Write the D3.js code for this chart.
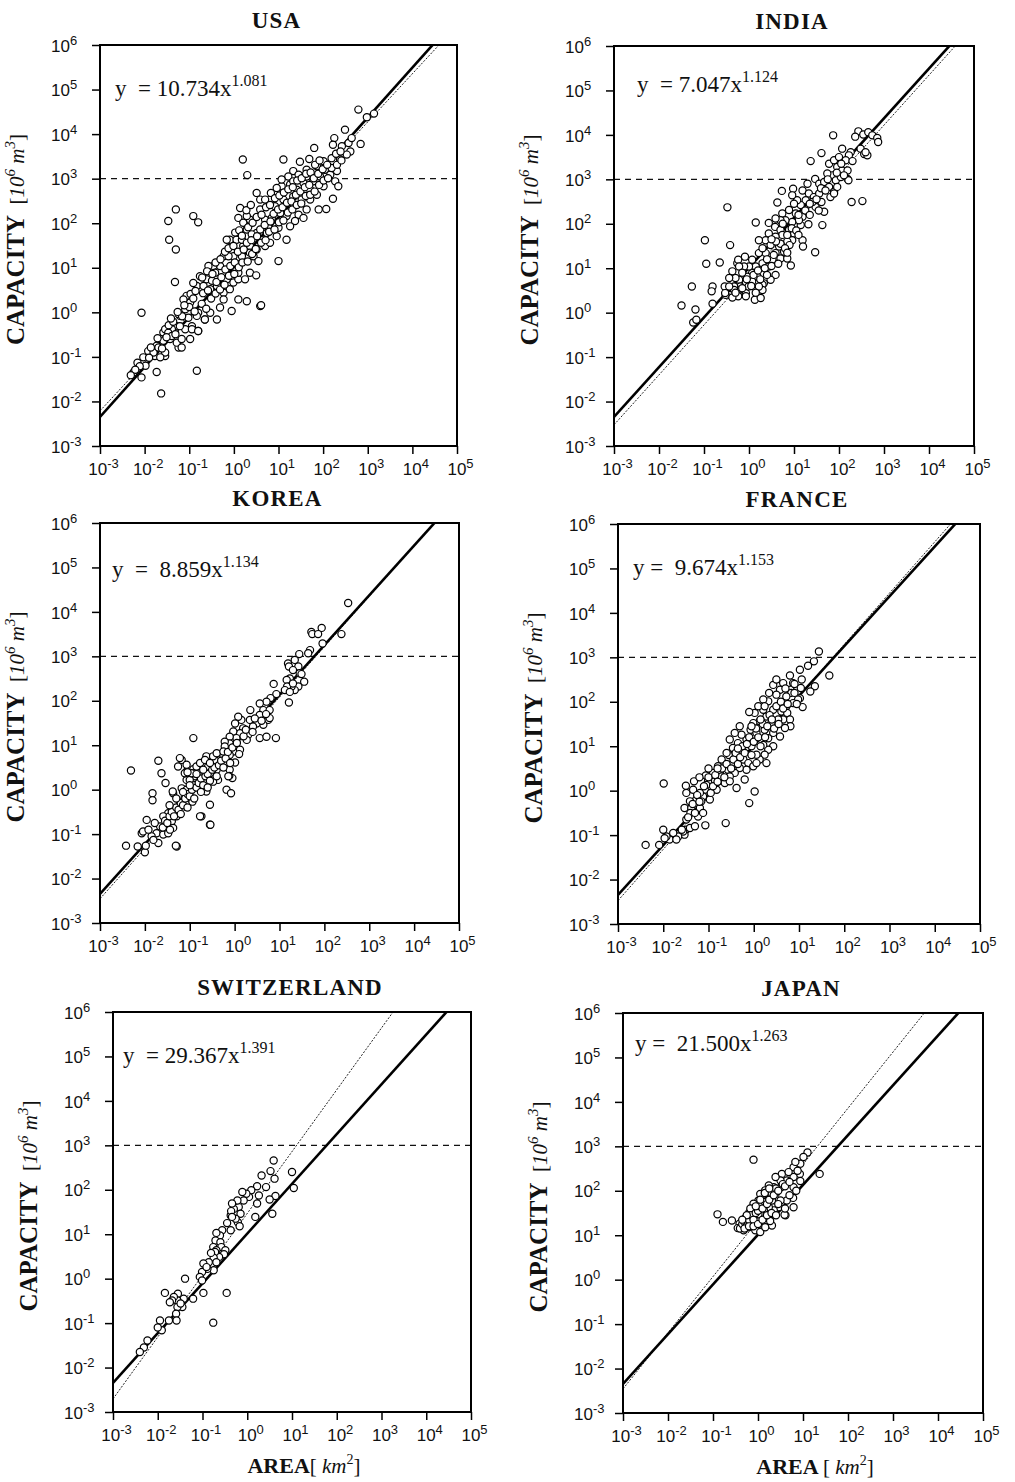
<!DOCTYPE html>
<html>
<head>
<meta charset="utf-8">
<script src="https://cdn.jsdelivr.net/npm/d3@7"></script>
<style>
    body { margin: 0; background: #fff; }
    svg text { font-family: "Liberation Sans", Arial, sans-serif; fill: #111; }
    .serif { font-family: "Liberation Serif", "Times New Roman", serif; }
</style>
</head>
<body>
<div id="chart"></div>
<script>
// country fits printed in each panel: capacity = a * area^b
const countries = ['USA', 'INDIA', 'KOREA', 'FRANCE', 'SWITZERLAND', 'JAPAN'];
const fitA = [10.734, 7.047, 8.859, 9.674, 29.367, 21.500];
const fitB = [1.081, 1.124, 1.134, 1.153, 1.391, 1.263];
const eqLead = ['y  = ', 'y  = ', 'y  =  ', 'y =  ', 'y  = ', 'y =  '];

// common reference line (solid) repeated in every panel
const refA = 10.3;
const refB = 1.12;
const bigDam = 1000;

const xExp = [-3, -2, -1, 0, 1, 2, 3, 4, 5];
const yExp = [-3, -2, -1, 0, 1, 2, 3, 4, 5, 6];

// dams: [log10 area (km2), log10 capacity (10^6 m3)]
const usaDams = [[2.79,4.55],[2.98,4.38],[3.14,4.46],[2.49,4.10],[2.25,3.91],[2.84,3.78],[1.80,3.69],[2.22,3.76],[2.42,3.73],[2.61,3.61],[2.53,3.54],[2.01,3.39],[2.19,3.46],[1.69,3.44],[1.48,3.38],[1.11,3.43],[0.20,3.43],[0.30,3.08],[1.33,3.17],[1.22,3.05],[1.63,3.20],[1.86,3.28],[2.04,3.20],[2.31,3.17],[2.27,2.94],[2.34,2.83],[2.16,3.09],[1.93,3.05],[1.78,2.94],[1.56,2.90],[1.41,2.75],[1.26,2.87],[1.07,2.83],[0.96,2.68],[0.81,2.53],[0.92,2.38],[1.11,2.53],[1.33,2.60],[1.52,2.53],[1.71,2.53],[1.90,2.31],[2.07,2.32],[2.22,2.55],[1.63,2.31],[1.45,2.19],[1.18,2.16],[1.04,2.23],[1.56,2.12],[1.37,2.05],[1.26,1.93],[1.18,1.63],[1.00,1.15],[0.77,1.93],[0.59,2.31],[0.70,2.08],[0.51,1.78],[0.36,2.08],[0.14,2.34],[0.10,2.12],[0.29,2.16],[-0.09,1.63],[-0.16,1.63],[0.06,1.63],[0.21,1.49],[0.36,1.49],[0.44,1.26],[0.55,1.15],[0.36,1.34],[0.18,1.26],[-0.01,1.26],[-0.23,1.26],[-0.31,1.04],[-0.46,1.04],[-0.42,0.89],[-0.57,1.04],[-0.61,0.74],[-0.76,0.81],[-0.83,0.59],[-0.91,0.66],[-0.68,0.59],[-0.53,0.52],[-0.38,0.59],[-0.23,0.44],[-0.09,0.52],[-0.01,0.67],[0.10,0.74],[0.25,0.74],[0.36,0.89],[0.50,0.83],[0.29,0.25],[0.59,0.14],[-0.05,0.03],[-0.31,0.11],[-0.38,-0.16],[-0.65,-0.16],[-0.80,-0.01],[-0.98,0.22],[-1.06,0.37],[-1.13,0.29],[-1.09,0.07],[-1.21,-0.08],[-1.28,-0.31],[-1.32,-0.45],[-1.39,-0.38],[-1.51,-0.38],[-1.58,-0.45],[-1.65,-0.60],[-1.73,-0.75],[-1.54,-0.98],[-1.77,-0.98],[-1.43,-0.60],[-1.24,-0.79],[-0.98,-0.60],[-0.80,-0.42],[-0.94,-0.31],[-0.83,-0.08],[-0.53,-0.01],[-0.23,0.29],[0.10,0.29],[-0.16,0.74],[0.10,0.89],[-0.12,1.26],[0.18,1.63],[0.29,1.86],[0.40,1.75],[0.51,1.41],[0.70,1.49],[0.81,1.56],[0.96,1.71],[0.74,1.78],[0.66,1.63],[1.00,1.90],[0.85,2.12],[0.59,2.53],[0.51,2.68],[0.70,2.53],[0.83,2.68],[0.96,2.79],[1.07,2.98],[1.33,2.94],[1.45,3.09],[1.63,3.05],[1.71,2.75],[1.86,2.64],[2.01,2.83],[2.19,3.24],[2.38,3.43],[2.57,3.80],[2.64,3.91],
    [-1.47,2.05],[-1.30,2.31],[-0.91,2.16],[-0.80,2.02],[-1.45,1.63],[-1.30,1.41],[-1.32,0.68],
    [-2.25,-1.35],[-2.07,-1.46],[-1.98,-1.20],[-1.73,-1.34],[-2.03,-1.01],[-1.92,-0.87],[-2.16,-1.13],[-1.63,-1.82],[-0.83,-1.31],[-2.07,-0.01],[-1.80,-0.90],[-1.69,-0.79],[-1.58,-0.64],[-1.54,-0.38],[-1.47,-0.46],[-1.39,-0.53],[-1.28,-0.68],[-1.17,-0.60],[-1.09,-0.38],[-0.94,-0.38],[-0.80,-0.42],[-0.65,-0.16],[-1.24,-0.04],[-1.17,-0.79],[-1.54,-0.90],[-1.65,-1.01],[0.61,0.16],
    [-1.02,-0.12],[-1.00,0.12],[-0.97,0.41],[-0.88,0.02],[-0.91,0.31],[-0.86,0.48],[-0.72,0.19],[-0.69,0.43],[-0.71,0.78],[-0.62,0.08],[-0.58,0.49],[-0.6,0.92],[-0.51,0.31],[-0.49,0.71],[-0.48,0.86],[-0.41,0.42],[-0.39,0.68],[-0.41,1.12],[-0.31,0.51],[-0.28,0.79],[-0.3,1.19],[-0.21,0.62],[-0.19,0.96],[-0.2,1.36],[-0.11,0.82],[-0.08,1.04],[-0.12,1.44],[0.01,0.86],[0.02,1.12],[-0.01,1.49],[0.03,1.79],[0.11,1.01],[0.09,1.36],[0.12,1.84],[0.19,1.12],[0.22,1.41],[0.18,1.72],[0.21,2.01],[0.31,1.14],[0.29,1.56],[0.32,1.91],[0.28,2.29],[0.41,1.31],[0.39,1.62],[0.42,2.01],[0.38,2.41],[0.49,1.42],[0.52,1.71],[0.51,2.14],[0.61,1.56],[0.59,1.86],[0.62,2.19],[0.71,1.62],[0.69,1.96],[0.72,2.36],[0.79,1.81],[0.82,2.04],[0.81,2.41],[0.91,1.86],[0.89,2.21],[0.92,2.56],[1.01,2.02],[0.99,2.31],[1.02,2.62],[1.11,2.06],[1.09,2.36],[1.12,2.69],[1.21,2.24],[1.19,2.46],[1.22,2.76],[1.31,2.31],[1.29,2.49],[1.32,2.81],[1.41,2.41],[1.39,2.64],[1.42,2.96],[1.51,2.44],[1.49,2.71],[1.52,3.01],[1.61,2.61],[1.59,2.81],[1.62,3.11],[1.71,2.64],[1.69,2.86],[1.72,3.14],[1.81,2.71],[1.79,3.01],[1.82,3.31],[1.91,2.86],[1.89,3.11],[1.92,3.41],[2.01,2.96],[1.99,3.21],[2.11,3.01],[2.09,3.31],[2.31,3.31],[2.29,3.56],[2.41,3.41],[2.39,3.61],
    [-1.9,-1.02],[-1.86,-0.79],[-1.71,-0.58],[-1.61,-0.81],[-1.51,-0.56],[-1.46,-0.29],[-1.36,-0.21],[-1.31,-0.49],[-1.21,-0.31],[-1.16,-0.09],[-1.11,0.16],[-1.26,0.01],[-1.41,-0.14],[-2.11,-1.21],[-2.21,-1.29],[-2.31,-1.41]];

const indiaDams = [[2.43,4.08],[2.36,3.96],[2.54,4.01],[2.65,4.06],[2.74,3.99],[2.85,3.93],[2.87,3.84],[1.87,3.99],[2.07,3.69],[2.26,3.61],[2.48,3.69],[2.56,3.57],[2.63,3.54],[2.59,3.61],[1.61,3.59],[1.37,3.41],[1.78,3.35],[1.89,3.43],[2.00,3.50],[2.22,3.54],[2.15,3.43],[2.30,3.41],[1.96,3.28],[2.07,3.20],[2.19,3.20],[2.19,3.01],[2.21,2.98],[1.85,3.09],[1.74,3.13],[1.93,2.98],[2.04,3.05],[2.11,3.09],[1.47,3.01],[1.56,2.90],[1.67,2.94],[1.78,2.83],[1.89,2.72],[1.96,2.83],[1.81,2.60],[1.89,2.68],[2.28,2.49],[2.52,2.51],[1.30,2.90],[1.19,2.75],[1.33,2.68],[1.44,2.60],[1.56,2.68],[1.61,2.49],[1.67,2.27],[1.63,1.97],[1.48,2.38],[1.41,2.49],[1.26,2.53],[1.15,2.42],[1.07,2.53],[1.00,2.45],[0.98,2.79],[0.96,2.64],[0.73,2.74],[0.63,2.48],[0.74,2.23],[0.89,2.31],[1.04,2.23],[1.19,2.16],[1.32,1.99],[1.15,1.97],[1.11,2.08],[0.96,2.04],[0.81,2.08],[0.70,2.08],[0.59,2.12],[0.44,2.02],[0.15,2.03],[0.58,1.93],[0.70,1.86],[0.89,1.86],[1.00,1.78],[0.96,1.63],[0.85,1.60],[1.19,1.63],[1.20,1.49],[0.90,1.52],[0.74,1.75],[0.59,1.71],[0.44,1.78],[0.37,1.63],[0.22,1.63],[0.48,1.52],[0.67,1.49],[0.59,1.34],[0.78,1.37],[0.70,1.22],[0.52,1.19],[0.37,1.34],[0.22,1.34],[0.30,1.11],[0.44,1.04],[0.59,0.85],[0.48,0.74],[0.33,0.66],[0.19,0.81],[0.07,0.89],[0.15,1.04],[0.00,1.04],[-0.11,1.04],[0.07,0.70],[0.30,0.63],[0.30,0.51],[0.22,0.59],[-0.07,0.66],[-0.22,0.74],[-0.04,0.81],[0.07,1.19],[0.93,1.06],[1.47,1.36],[0.85,1.22],[-0.07,0.44],[-0.19,0.59],[-0.22,0.51],[-0.33,0.59],[-0.37,0.44],[-0.26,0.40],[-0.07,0.37],[-0.30,0.78],[-0.37,0.93],[-0.09,1.26],[-0.26,1.11],[-0.24,1.19],[-0.01,0.59],[0.13,0.29],[0.26,0.33],[-0.44,0.78],[-0.22,1.04],[-0.33,0.51],[-0.44,0.40],[-0.52,0.40],[-0.54,0.59],[-0.44,0.59],[-0.24,0.37],[-0.53,0.44],[-0.37,0.34],
    [-0.48,2.37],[-0.98,1.63],[-0.95,1.10],[-0.65,1.13],[-0.42,1.52],[-0.81,0.59],[-0.83,0.48],[-0.81,0.20],[-1.27,0.59],[-1.50,0.16],[-1.19,0.07],[-1.24,-0.22],[-1.17,-0.16],
    [-0.15,0.55],[-0.05,0.75],[0.05,0.6],[0.1,0.85],[0.2,0.95],[0.25,0.75],[0.35,1.0],[0.4,1.2],[0.5,1.05],[0.55,1.3],[0.65,1.1],[0.7,1.55],[0.8,1.45],[0.85,1.75],[0.95,1.9],[1.05,1.85],[1.1,2.2],[1.25,2.3],[1.35,2.45],[1.5,2.55],[1.6,2.8],[1.7,2.75],[1.75,3.0],[1.95,3.15],[2.05,3.35],[-0.3,0.45],[-0.15,0.9],[0.15,0.45],[0.4,0.85],[0.6,1.6],[0.85,1.35],[1.1,1.75],[1.35,2.2],[1.55,2.3],[0.3,1.45],[0.5,1.65],[0.75,2.0]];

const koreaDams = [[2.53,4.20],[2.38,3.50],[1.94,3.64],[1.71,3.55],[1.73,3.50],[1.86,3.50],[1.96,3.29],[1.68,3.14],[1.64,3.07],[1.44,3.05],[1.34,2.92],[1.42,2.77],[1.45,2.62],[1.19,2.84],[1.21,2.77],[1.30,2.69],[1.23,2.50],[1.16,2.47],[1.55,2.43],[1.49,2.60],[1.42,2.32],[1.34,2.24],[1.27,2.32],[1.17,2.32],[1.12,2.24],[1.23,2.20],[1.21,1.96],[1.30,2.39],[0.87,2.38],[0.93,2.15],[0.80,2.06],[0.71,1.98],[0.56,1.94],[0.64,1.79],[0.78,1.79],[0.56,1.68],[0.75,1.57],[0.78,1.61],[0.64,1.46],[0.49,1.49],[0.35,1.79],[0.34,1.57],[0.41,1.42],[0.30,1.23],[0.56,1.16],[0.71,1.19],[0.92,1.16],[0.15,1.57],[0.08,1.64],[0.19,1.38],[0.01,1.49],[0.12,1.27],[-0.03,1.31],[0.04,1.16],[-0.11,1.19],[0.27,1.12],[-0.11,1.04],[0.01,0.97],[-0.22,1.08],[-0.03,0.86],[-0.11,0.78],[0.12,0.90],[-0.22,0.97],[0.01,0.61],[-0.11,0.45],[-0.05,0.26],[-0.12,0.31],[-0.18,0.00],[-0.08,-0.08],[-0.25,0.75],[-0.33,0.60],[-0.44,0.67],[-0.40,0.45],[-0.48,0.33],[-0.37,0.22],[-0.59,0.52],[-0.55,0.37],[-0.63,0.75],[-0.74,0.45],[-0.70,0.22],[-0.88,0.30],[-0.77,0.07],[-0.63,-0.04],[-0.96,-0.23],[-0.55,-0.34],[-0.74,-0.60],[-0.55,-0.79],[-0.92,0.46],[-1.07,0.22],[-1.18,0.03],[-0.92,0.37],[-0.85,0.52],[-0.77,0.60],[-0.66,0.67],[-1.07,0.41],[-1.11,-0.15],[-1.22,-0.27],[-1.37,-0.08],[-1.48,-0.53],[-1.18,-0.41],[-1.29,-0.60],[-1.40,-0.71],[-1.59,-0.60],[-1.52,-0.79],[-1.66,-0.83],[-1.74,-0.98],[-1.55,-0.98],[-1.37,-0.86],[-1.29,-1.28],[-1.70,-1.20],[-1.07,0.00],[-1.00,0.22],[-1.18,0.67],[-1.11,0.37],[-0.96,0.37],[-1.07,0.56],[-0.77,0.30],[-0.66,0.18],[-0.48,0.18],[-0.94,-0.27],
    [-2.31,0.43],[-1.70,0.65],[-1.63,0.37],[-1.54,0.15],[-1.83,-0.08],[-1.83,-0.24],[-1.38,-0.04],[-1.22,0.71],[-1.26,0.52],[-1.05,0.39],[-0.92,1.16],[-2.42,-1.26],[-2.16,-1.28],[-2.00,-1.41],[-1.98,-1.26],[-2.07,-0.98],[-1.96,-0.68],[-2.04,-0.94],[-1.85,-1.05],[-1.78,-0.75],[-1.92,-0.90],[-1.81,-1.13],[-1.59,-1.01],[-1.48,-0.98],[-1.44,-0.90],[-1.31,-1.26],[-0.77,-0.60],[-0.54,-0.79],[-0.14,0.30],[-0.48,0.75],[-0.40,0.82],[-0.25,0.86],
    [-1.6,-0.85],[-1.55,-0.7],[-1.5,-0.75],[-1.45,-0.6],[-1.4,-0.5],[-1.35,-0.6],[-1.3,-0.4],[-1.25,-0.45],[-1.2,-0.3],[-1.15,-0.35],[-1.1,-0.2],[-1.05,-0.1],[-1.0,-0.15],[-0.95,0.0],[-0.9,0.1],[-0.85,0.05],[-0.8,0.15],[-0.75,0.25],[-0.7,0.1],[-0.65,0.3],[-0.6,0.35],[-0.55,0.2],[-0.5,0.45],[-0.45,0.5],[-0.4,0.3],[-0.35,0.55],[-0.3,0.65],[-0.25,0.5],[-0.2,0.7],[-0.15,0.85],[-0.1,0.6],[-0.05,0.95],[0.05,1.05],[0.1,0.8],[0.2,1.2],[0.25,1.35],[0.4,1.3],[0.45,1.6],[0.6,1.55],[0.7,1.7],[-1.45,-0.35],[-1.3,-0.2],[-1.15,-0.05],[-1.0,0.1],[-0.85,0.35],[-0.7,0.45],[-0.55,0.6],[-1.2,-0.55],[-1.05,-0.4],[-0.9,-0.2],[-0.75,-0.05],[-0.6,0.05]];

const franceDams = [[1.44,3.13],[1.33,2.91],[1.20,2.81],[1.67,2.59],[1.35,2.35],[1.25,2.23],[1.02,2.72],[1.06,2.50],[0.80,2.59],[0.87,2.42],[1.04,2.31],[0.81,2.27],[1.02,2.08],[1.08,1.88],[0.98,2.05],[0.83,2.20],[0.72,2.12],[0.87,1.97],[0.72,1.90],[0.65,2.42],[0.58,2.27],[0.50,2.16],[0.43,2.38],[0.50,2.50],[0.34,2.20],[0.32,2.01],[0.21,2.05],[0.43,1.82],[0.61,1.78],[0.74,1.75],[0.80,1.60],[0.65,1.60],[0.81,1.45],[0.69,1.41],[0.54,1.60],[0.39,1.52],[0.28,1.67],[0.21,1.82],[0.10,1.90],[0.24,1.90],[0.02,1.75],[0.13,1.56],[-0.01,1.52],[-0.10,1.77],[-0.07,1.37],[0.06,1.30],[0.24,1.37],[0.43,1.30],[0.32,1.18],[0.58,1.22],[0.43,1.00],[0.32,0.92],[0.21,1.03],[0.24,0.81],[0.28,0.62],[0.13,0.70],[0.06,0.81],[-0.05,1.00],[-0.16,1.15],[-0.27,1.26],[-0.31,1.45],[-0.42,1.30],[-0.35,1.07],[-0.46,0.96],[-0.53,1.15],[-0.46,0.77],[-0.31,0.92],[-0.23,0.70],[-0.12,0.62],[-0.01,0.55],[0.06,0.62],[-0.16,0.47],[-0.31,0.51],[-0.46,0.62],[-0.57,0.47],[-0.42,0.40],[-0.53,0.32],[-0.38,0.06],[-0.64,0.17],[-0.75,0.40],[-0.71,0.70],[-0.79,0.55],[-0.90,0.40],[-0.86,0.21],[-1.01,0.21],[-0.97,0.06],[-0.82,0.02],[-1.08,0.02],[-1.12,-0.13],[-0.97,-0.20],[-1.06,0.34],[-1.05,0.13],[-1.19,-0.05],[-1.27,-0.20],[-1.34,0.02],[-1.32,0.21],[-1.49,-0.05],[-1.41,-0.24],[-1.53,-0.39],[-1.38,-0.39],[-1.19,-0.39],[-1.16,-0.24],[-1.49,-0.65],[-1.40,-0.50],[-1.23,-0.58],[-1.12,-0.50],[-1.50,-0.88],[-1.41,-0.84],[-1.30,-0.80],[-1.53,-0.99],[-1.56,-0.92],[-1.07,-0.78],[-0.62,-0.73],[-0.10,-0.28],[0.02,-0.02],[-0.20,0.25],[-0.71,0.32],[-0.53,0.21],[-1.67,-1.03],[-1.78,-0.95],[-1.86,-1.10],[-1.93,-1.03],[-2.00,-0.88],[-1.97,-1.07],[-2.09,-1.22],[-2.39,-1.22],[-1.99,0.16],[-1.50,0.11],[-1.59,-0.88],[-1.71,-1.10],
    [-1.45,-0.6],[-1.35,-0.3],[-1.3,-0.5],[-1.25,-0.1],[-1.2,-0.25],[-1.1,0.1],[-1.0,0.3],[-0.95,-0.05],[-0.9,0.1],[-0.85,0.35],[-0.8,0.2],[-0.7,0.5],[-0.65,0.3],[-0.6,0.6],[-0.55,0.8],[-0.5,0.5],[-0.45,0.7],[-0.4,0.85],[-0.35,0.6],[-0.3,0.75],[-0.25,1.0],[-0.2,0.85],[-0.15,1.05],[-0.1,1.2],[-0.05,0.8],[0.0,1.1],[0.05,1.4],[0.1,1.2],[0.15,1.0],[0.2,1.5],[0.25,1.2],[0.3,1.45],[0.35,1.7],[0.4,1.6],[0.45,1.4],[0.5,1.9],[0.55,1.5],[0.6,2.0],[0.65,1.85],[0.7,2.3],[0.75,1.95],[0.9,2.2],[0.95,1.95],[0.9,2.4],[0.15,1.6],[-0.05,1.45],[-0.35,0.95],[-0.6,0.85],[-0.8,0.5],[-1.0,0.5],[-1.2,0.3]];

const swissDams = [[0.59,2.66],[0.52,2.42],[0.61,2.25],[0.32,2.32],[1.00,2.40],[1.04,2.04],[0.42,2.06],[0.63,1.86],[0.50,1.78],[0.56,1.46],[0.22,2.08],[0.26,1.87],[0.22,1.69],[0.18,1.39],[0.09,1.99],[0.04,1.84],[-0.02,1.91],[-0.08,1.76],[-0.11,1.95],[-0.19,1.61],[-0.22,1.76],[-0.15,1.46],[-0.30,1.57],[-0.37,1.42],[-0.34,1.69],[-0.21,1.27],[-0.17,1.18],[-0.26,1.35],[-0.36,1.52],[-0.34,1.39],[-0.45,1.25],[-0.37,1.09],[-0.56,1.09],[-0.61,0.97],[-0.69,1.03],[-0.71,0.86],[-0.60,0.82],[-0.76,0.71],[-0.58,0.71],[-0.69,0.64],[-0.49,0.64],[-0.52,0.55],[-0.63,0.49],[-0.72,0.60],[-0.75,0.47],[-0.81,0.58],[-0.86,0.37],[-0.69,0.37],[-0.75,0.19],[-0.89,0.22],[-0.98,0.34],[-1.01,0.15],[-0.91,0.26],[-1.06,0.04],[-1.01,-0.04],[-0.98,-0.32],[-0.46,-0.32],[-0.76,-0.99],[-1.21,-0.45],[-1.39,0.00],[-1.45,-0.64],[-1.42,-0.45],[-1.55,-0.34],[-1.56,-0.49],[-1.64,-0.41],[-1.68,-0.49],[-1.73,-0.53],[-1.56,-0.64],[-1.49,-0.56],[-1.59,-0.79],[-1.58,-0.94],[-1.75,-0.94],[-1.84,-0.32],[-1.95,-0.94],[-1.91,-1.16],[-2.00,-1.10],[-2.23,-1.39],[-2.31,-1.55],[-2.40,-1.65]];

const japanDams = [[-0.10,2.70],[1.37,2.38],[1.10,2.86],[1.01,2.76],[0.94,2.61],[0.79,2.53],[0.93,2.38],[0.83,2.65],[0.79,2.31],[0.94,2.22],[0.79,2.08],[0.78,1.84],[0.79,1.63],[0.61,1.45],[0.64,1.78],[0.53,2.38],[0.64,2.23],[0.68,2.42],[0.50,2.23],[0.39,2.31],[0.51,2.08],[0.39,1.93],[0.50,1.78],[0.31,1.78],[0.46,1.63],[0.35,1.56],[0.35,2.08],[0.24,2.12],[0.20,1.93],[0.27,1.86],[0.13,1.78],[0.24,1.63],[0.13,1.56],[0.05,1.48],[0.20,1.41],[0.31,1.22],[0.16,1.33],[0.01,1.33],[0.05,1.18],[-0.02,1.22],[-0.10,1.30],[-0.10,1.41],[-0.02,1.56],[0.09,1.67],[0.05,1.93],[0.16,2.01],[0.01,1.78],[-0.10,1.71],[-0.13,1.56],[-0.19,1.41],[-0.16,1.26],[-0.21,1.18],[-0.24,1.33],[-0.28,1.22],[-0.36,1.18],[-0.41,1.26],[-0.45,1.16],[-0.32,1.11],[-0.19,1.52],[-0.17,1.60],[-0.06,1.11],[0.05,1.07],[-0.28,1.39],[0.01,1.47],[-0.90,1.47],[-0.78,1.30],[-0.58,1.33],[0.27,1.32],[0.59,1.46],[0.16,1.18],
    [-0.4,1.15],[-0.35,1.25],[-0.3,1.3],[-0.25,1.2],[-0.2,1.35],[-0.15,1.45],[-0.1,1.35],[-0.05,1.5],[0.0,1.55],[0.05,1.65],[0.1,1.6],[0.15,1.75],[0.2,1.7],[0.25,1.8],[0.3,1.95],[0.35,1.9],[0.4,2.05],[0.45,2.0],[0.55,2.15],[0.6,2.1],[-0.3,1.15],[-0.2,1.2],[-0.1,1.2],[0.0,1.25],[0.1,1.35],[0.2,1.45],[0.3,1.5],[0.4,1.45],[0.45,1.7],[0.6,1.6],[0.7,1.9],[0.7,2.2],[0.85,2.0],[0.88,2.45],[-0.05,1.65],[0.05,1.8],[0.15,1.95],[0.25,2.05],[-0.25,1.45],[-0.35,1.35]];

const damSets = [usaDams, indiaDams, koreaDams, franceDams, swissDams, japanDams];

// page layout: plot frame [left, top, right, bottom], equation offset, x-label text
const layout = [
    { box: [100, 45, 457, 446], eq: [15, 51] },
    { box: [614, 46, 974, 446], eq: [23, 46] },
    { box: [100, 523, 459, 923], eq: [12, 54] },
    { box: [618, 524, 980, 924], eq: [15, 51] },
    { box: [113, 1012, 471, 1412], eq: [10, 51], xlab: 'AREA' },
    { box: [623, 1013, 983, 1413], eq: [12, 38], xlab: 'AREA ' }
];

function powerOfTen(text, e) {
    text.text(null);
    text.append('tspan').text('10');
    text.append('tspan').attr('dy', -7).attr('font-size', 13).text(e);
}

class LogPanel {
    constructor(svg, index) {
        this._svg = svg;
        this._index = index;
        this._box = layout[index].box;
        this._opts = layout[index];
        this._dams = damSets[index];
        const [l, t, r, b] = this._box;

        this._x = d3.scaleLog().domain([1e-3, 1e5]).range([l, r]);
        this._y = d3.scaleLog().domain([1e-3, 1e6]).range([b, t]);

        this._g = svg.append('g').attr('class', 'panel');
        this._clipId = 'clip' + index;
        svg.select('defs').append('clipPath').attr('id', this._clipId)
            .append('rect')
            .attr('x', l).attr('y', t)
            .attr('width', r - l).attr('height', b - t);
    }

    draw() {
        this.drawLines();
        this.drawDams();
        this.drawAxes();
        this.drawText();
    }

    drawLines() {
        const x = this._x, y = this._y;
        const lines = this._g.append('g').attr('clip-path', `url(#${this._clipId})`);
        const ends = x.domain();
        const power = (a, b) => d3.line()
            .x(d => x(d))
            .y(d => y(a * Math.pow(d, b)));

        lines.append('line')
            .attr('x1', x.range()[0]).attr('x2', x.range()[1])
            .attr('y1', y(bigDam)).attr('y2', y(bigDam))
            .attr('stroke', '#111').attr('stroke-width', 1.1)
            .attr('stroke-dasharray', '6,5');

        lines.append('path')
            .attr('d', power(fitA[this._index], fitB[this._index])(ends))
            .attr('fill', 'none').attr('stroke', '#222')
            .attr('stroke-width', 1).attr('stroke-dasharray', '2,1.5');

        lines.append('path')
            .attr('d', power(refA, refB)(ends))
            .attr('fill', 'none').attr('stroke', '#000')
            .attr('stroke-width', 2.6);
    }

    drawDams() {
        const x = this._x, y = this._y;
        this._g.append('g')
            .selectAll('circle')
            .data(this._dams)
            .join('circle')
            .attr('cx', d => x(Math.pow(10, d[0])))
            .attr('cy', d => y(Math.pow(10, d[1])))
            .attr('r', 3.6)
            .attr('fill', '#fff')
            .attr('stroke', '#000')
            .attr('stroke-width', 1.2);
    }

    drawAxes() {
        const [l, t, r, b] = this._box;
        const xAxis = this._g.append('g')
            .attr('transform', `translate(0, ${b})`)
            .call(d3.axisBottom(this._x)
                .tickValues(xExp.map(e => Math.pow(10, e)))
                .tickSize(8));
        xAxis.selectAll('text')
            .attr('x', 3).attr('y', 29).attr('dy', null)
            .attr('text-anchor', 'middle')
            .each(function (d, i) { powerOfTen(d3.select(this), xExp[i]); });

        const yAxis = this._g.append('g')
            .attr('transform', `translate(${l}, 0)`)
            .call(d3.axisLeft(this._y)
                .tickValues(yExp.map(e => Math.pow(10, e)))
                .tickSize(8));
        yAxis.selectAll('text')
            .attr('x', -49).attr('dy', '0.36em')
            .attr('text-anchor', 'start')
            .each(function (d, i) { powerOfTen(d3.select(this), yExp[i]); });

        [xAxis, yAxis].forEach(axis => {
            axis.attr('font-size', 17).attr('font-family', null);
            axis.select('.domain').remove();
            axis.selectAll('line').attr('stroke-width', 1.5);
        });

        this._g.append('rect')
            .attr('x', l).attr('y', t)
            .attr('width', r - l).attr('height', b - t)
            .attr('fill', 'none').attr('stroke', '#000')
            .attr('stroke-width', 2);
    }

    drawText() {
        const [l, t, r, b] = this._box;
        const i = this._index;

        this._g.append('text')
            .attr('class', 'serif')
            .attr('x', (l + r) / 2 - 2).attr('y', t - 17)
            .attr('text-anchor', 'middle')
            .attr('font-size', 23).attr('font-weight', 'bold')
            .style('letter-spacing', '1.2px')
            .text(countries[i]);

        const eq = this._g.append('text')
            .attr('class', 'serif')
            .attr('x', l + this._opts.eq[0]).attr('y', t + this._opts.eq[1])
            .attr('font-size', 23)
            .style('white-space', 'pre');
        eq.append('tspan').text(eqLead[i] + fitA[i].toFixed(3) + 'x');
        eq.append('tspan').attr('dy', -10).attr('font-size', 16).text(fitB[i].toFixed(3));

        const yl = this._g.append('text')
            .attr('class', 'serif')
            .attr('transform', `translate(${l - 76}, ${(t + b) / 2 - 6}) rotate(-90)`)
            .attr('text-anchor', 'middle')
            .attr('font-size', 21)
            .style('white-space', 'pre');
        yl.append('tspan').attr('font-size', 25).attr('font-weight', 'bold')
            .text('CAPACITY');
        yl.append('tspan').text('  [');
        yl.append('tspan').attr('font-style', 'italic').text('10');
        yl.append('tspan').attr('font-style', 'italic').attr('font-size', 15).attr('dy', -9).text('6');
        yl.append('tspan').attr('font-style', 'italic').attr('dy', 9).text(' m');
        yl.append('tspan').attr('font-style', 'italic').attr('font-size', 15).attr('dy', -9).text('3');
        yl.append('tspan').attr('dy', 9).text(']');

        if (this._opts.xlab) {
            const xl = this._g.append('text')
                .attr('class', 'serif')
                .attr('x', (l + r) / 2 + 12).attr('y', b + 61)
                .attr('text-anchor', 'middle')
                .attr('font-size', 21)
                .style('white-space', 'pre');
            xl.append('tspan').attr('font-weight', 'bold').attr('font-size', 22)
                .text(this._opts.xlab);
            xl.append('tspan').text('[ ');
            xl.append('tspan').attr('font-style', 'italic').text('km');
            xl.append('tspan').attr('font-size', 14).attr('dy', -9).text('2');
            xl.append('tspan').attr('dy', 9).text(']');
        }
    }
}

const svg = d3.select('#chart').append('svg')
    .attr('width', 1015)
    .attr('height', 1482);
svg.append('defs');

countries.forEach((c, i) => new LogPanel(svg, i).draw());
</script>
</body>
</html>
